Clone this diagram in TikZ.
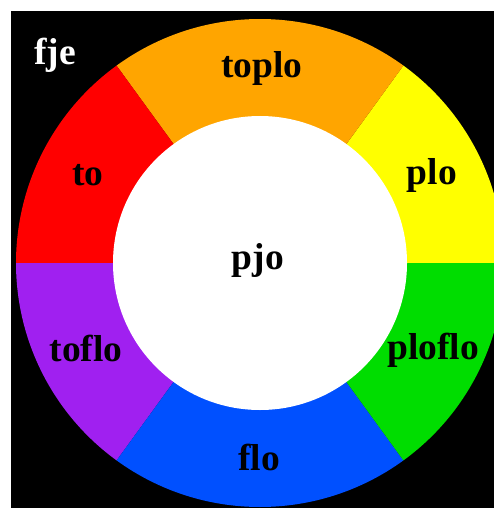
\documentclass[tikz,border=0pt]{standalone}
\usepackage{fontspec}
\setmainfont{Liberation Serif}
\usetikzlibrary{calc}
\definecolor{cOrange}{RGB}{255,165,0}
\definecolor{cRed}{RGB}{255,0,0}
\definecolor{cYellow}{RGB}{255,255,0}
\definecolor{cGreen}{RGB}{0,221,0}
\definecolor{cBlue}{RGB}{0,80,255}
\definecolor{cPurple}{RGB}{160,32,240}
\tikzset{
  lbl/.style={font=\fontsize{37.5}{44}\selectfont\bfseries, text=black, inner sep=0pt},
}
\begin{document}
\begin{tikzpicture}[x=1pt,y=1pt]
\useasboundingbox (0,0) rectangle (494,-508);
\clip (0,0) rectangle (494,-508);
\fill[white] (0,0) rectangle (494,-508);
\fill[black] (11,-11) rectangle (494,-508);
\coordinate (c) at (260,-263);
\def\R{244}
\foreach \a/\b/\col in {0/54/cYellow, 54/126/cOrange, 126/180/cRed, 180/234/cPurple, 234/306/cBlue, 306/360/cGreen}{
  \fill[\col] (c) -- ($(c)+(\a:\R)$) arc[start angle=\a, end angle=\b, radius=\R] -- cycle;
}
\fill[white] (c) circle[radius=147];
\node[lbl] (toplo) at (262,-68) {toplo};
\node[lbl] (to) at (88,-175) {to};
\node[lbl] (plo) at (432,-175) {plo};
\node[lbl] (pjo) at (258,-260) {pjo};
\node[lbl] (toflo) at (86,-348) {toflo};
\node[lbl] (ploflo) at (433,-350) {ploflo};
\node[lbl] (flo) at (259,-457) {flo};
\node[lbl, text=white] (fje) at (55,-55) {fje};
\end{tikzpicture}
\end{document}
